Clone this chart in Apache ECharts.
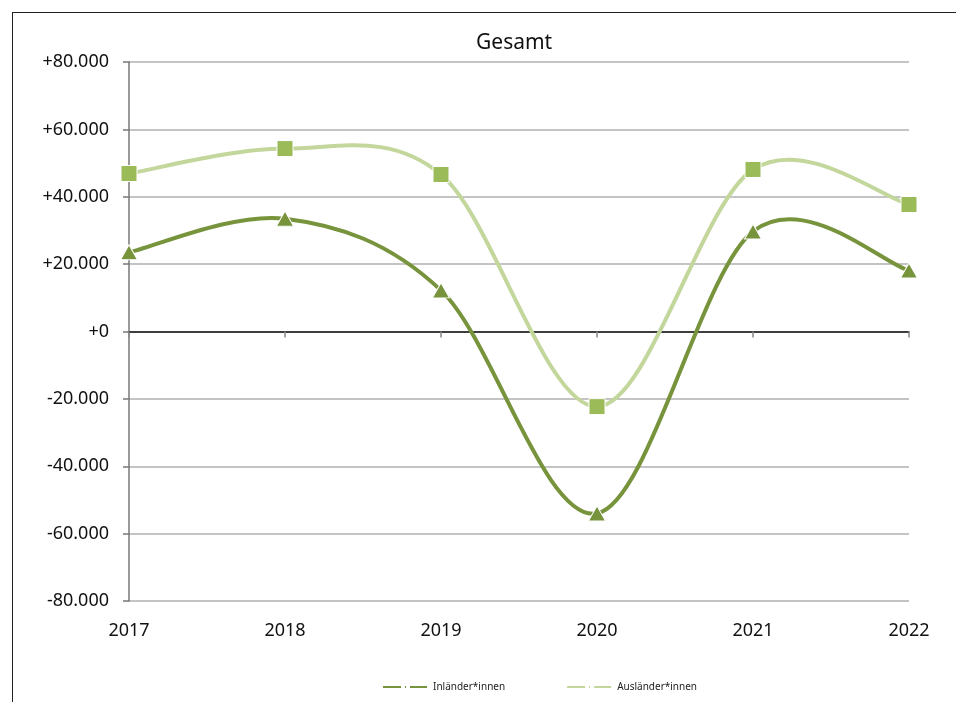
<!DOCTYPE html>
<html>
<head>
<meta charset="utf-8">
<script src="https://cdn.jsdelivr.net/npm/echarts@6/dist/echarts.min.js"></script>
<style>
  html, body { margin: 0; padding: 0; background: #fff; }
  #frame {
    position: absolute; left: 12px; top: 12px;
    width: 960px; height: 720px;
    border: 1px solid #222;
    box-sizing: border-box;
  }
  #chart { position: absolute; left: 0; top: 0; width: 956px; height: 702px; }
</style>
</head>
<body>
<div id="frame"></div>
<div id="chart"></div>
<script>
  // Jahre und Salden
  const years = ['2017', '2018', '2019', '2020', '2021', '2022'];
  const inlaender = [23500, 33500, 12200, -54000, 29700, 18100];
  const auslaender = [46900, 54300, 46600, -22300, 48100, 37700];
  const seriesNames = ['Inländer*innen', 'Ausländer*innen'];

  const darkGreen = '#77933c';
  const lightLine = '#c3d69b';
  const squareGreen = '#9bbb59';
  const legendIcon = 'path://M0,0h20v4h-20z M22,0h3v4h-3z M27,0h19v4h-19z';

  function fmt(v) {
    if (v === 0) return '+0';
    let s = Math.abs(v).toString().replace(/\B(?=(\d{3})+(?!\d))/g, '.');
    return (v > 0 ? '+' : '-') + s;
  }

  // geglaettete Linie wie in Excel (Catmull-Rom als Bezier-Segmente)
  function smoothLine(values, color) {
    return {
      type: 'custom',
      xAxisIndex: 0,
      silent: true,
      z: 1,
      data: values.map((v, i) => [i, v]),
      renderItem: function (params, api) {
        let i = params.dataIndex;
        if (i >= values.length - 1) return null;
        let pt = k => {
          k = Math.max(0, Math.min(values.length - 1, k));
          return api.coord([k, values[k]]);
        };
        let p0 = pt(i - 1), p1 = pt(i), p2 = pt(i + 1), p3 = pt(i + 2);
        return {
          type: 'bezierCurve',
          shape: {
            x1: p1[0], y1: p1[1],
            cpx1: p1[0] + (p2[0] - p0[0]) / 6,
            cpy1: p1[1] + (p2[1] - p0[1]) / 6,
            cpx2: p2[0] - (p3[0] - p1[0]) / 6,
            cpy2: p2[1] - (p3[1] - p1[1]) / 6,
            x2: p2[0], y2: p2[1]
          },
          style: { stroke: color, lineWidth: 4, fill: null, lineCap: 'round' }
        };
      }
    };
  }

  let myChart = echarts.init(document.getElementById('chart'), null, { renderer: 'canvas' });
  let option = {
    backgroundColor: 'transparent',
    textStyle: { fontFamily: 'Noto Sans' },
    title: {
      text: 'Gesamt',
      left: 471,
      top: 28,
      textStyle: { fontFamily: 'Noto Sans', fontSize: 21, fontWeight: 'normal', color: '#111' }
    },
    legend: {
      left: 376,
      top: 677,
      itemGap: 60,
      itemWidth: 46,
      itemHeight: 4,
      textStyle: { fontSize: 10, color: '#222' },
      data: [
        { name: seriesNames[0], icon: legendIcon, itemStyle: { color: darkGreen, opacity: 1 } },
        { name: seriesNames[1], icon: legendIcon, itemStyle: { color: lightLine, opacity: 1 } }
      ]
    },
    grid: { left: 129, right: 47, top: 62, bottom: 101 },
    xAxis: [{
      type: 'category',
      data: years,
      boundaryGap: false,
      axisLine: { onZero: true, lineStyle: { color: '#111', width: 1.5 } },
      axisTick: { show: true, length: 6, alignWithLabel: true, lineStyle: { color: '#888', width: 1.5 } },
      axisLabel: { show: false }
    }, {
      type: 'category',
      data: years,
      boundaryGap: false,
      position: 'bottom',
      axisLine: { show: false, onZero: false },
      axisTick: { show: false },
      axisLabel: { show: true, margin: 21, fontSize: 18, color: '#111', fontFamily: 'Noto Sans' }
    }],
    yAxis: {
      type: 'value',
      min: -80000,
      max: 80000,
      interval: 20000,
      axisLine: { show: true, lineStyle: { color: '#777', width: 1.5 } },
      axisTick: { show: true, length: 6, lineStyle: { color: '#777', width: 1.5 } },
      splitLine: { show: true, lineStyle: { color: '#c4c4c4', width: 2 } },
      axisLabel: { fontSize: 18, color: '#111', margin: 20, formatter: fmt, fontFamily: 'Noto Sans' }
    },
    series: [
      smoothLine(inlaender, darkGreen),
      smoothLine(auslaender, lightLine),
      {
        name: seriesNames[0],
        type: 'scatter',
        data: inlaender,
        symbol: 'triangle',
        symbolSize: [17, 15],
        z: 3,
        itemStyle: { color: darkGreen, borderColor: '#fff', borderWidth: 1, opacity: 1 }
      }, {
        name: seriesNames[1],
        type: 'scatter',
        data: auslaender,
        symbol: 'rect',
        symbolSize: 16,
        z: 3,
        itemStyle: { color: squareGreen, borderColor: '#fff', borderWidth: 1, opacity: 1 }
      }
    ]
  };
  myChart.setOption(option);
</script>
</body>
</html>
